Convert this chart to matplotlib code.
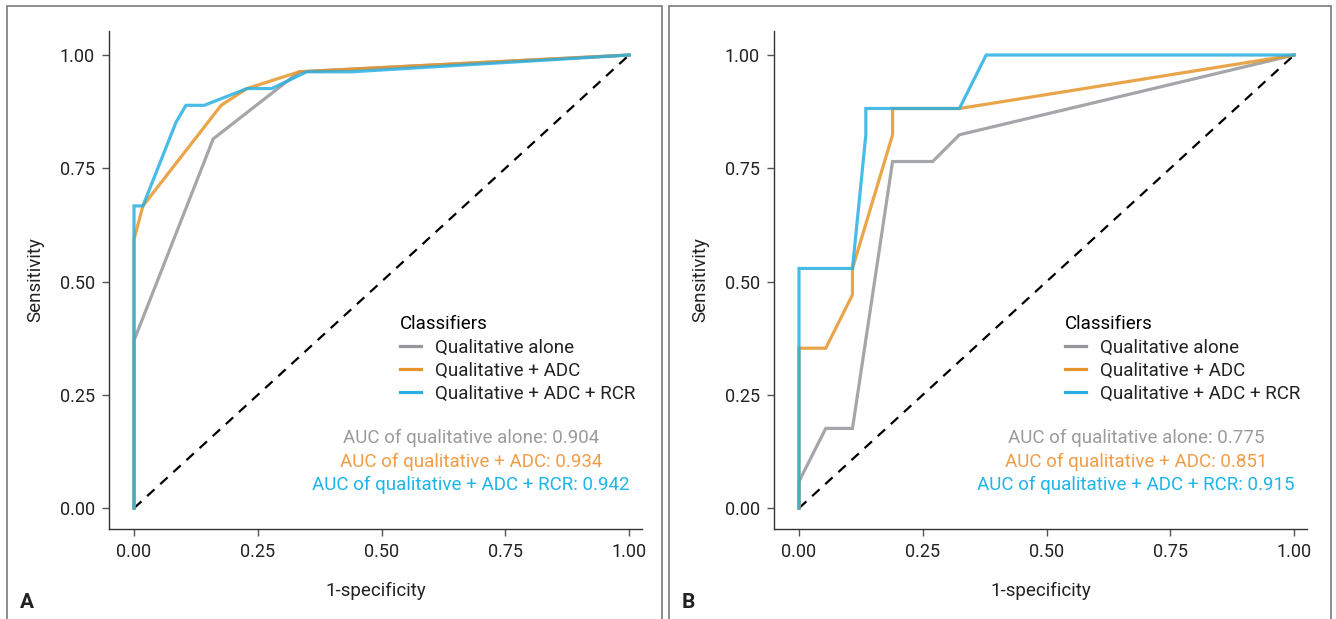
import matplotlib
matplotlib.use('Agg')
import matplotlib.pyplot as plt
from matplotlib.patches import Rectangle
from matplotlib.lines import Line2D

plt.rcParams['font.family'] = ['Roboto', 'DejaVu Sans']

# panel A: ROC points (1-specificity, sensitivity)
a_qual_x = [0, 0, 0.160, 0.334, 1]
a_qual_y = [0, 0.370, 0.815, 0.963, 1]
a_adc_x = [0, 0, 0.018, 0.176, 0.228, 0.334, 1]
a_adc_y = [0, 0.593, 0.667, 0.889, 0.926, 0.963, 1]
a_rcr_x = [0, 0, 0.018, 0.085, 0.105, 0.142, 0.228, 0.278, 0.349, 0.440, 1]
a_rcr_y = [0, 0.667, 0.667, 0.852, 0.889, 0.889, 0.926, 0.926, 0.963, 0.963, 1]
a_auc = [0.904, 0.934, 0.942]

# panel B
b_qual_x = [0, 0, 0.054, 0.108, 0.189, 0.270, 0.324, 1]
b_qual_y = [0, 0.059, 0.176, 0.176, 0.765, 0.765, 0.824, 1]
b_adc_x = [0, 0, 0.054, 0.108, 0.108, 0.189, 0.189, 0.324, 1]
b_adc_y = [0, 0.353, 0.353, 0.471, 0.529, 0.824, 0.882, 0.882, 1]
b_rcr_x = [0, 0, 0.108, 0.135, 0.135, 0.324, 0.378, 1]
b_rcr_y = [0, 0.529, 0.529, 0.824, 0.882, 0.882, 1, 1]
b_auc = [0.775, 0.851, 0.915]

names = ['Qualitative alone', 'Qualitative + ADC', 'Qualitative + ADC + RCR']
auc_names = ['qualitative alone', 'qualitative + ADC', 'qualitative + ADC + RCR']
ticks = [0, 0.25, 0.5, 0.75, 1.0]
tick_labels = ['0.00', '0.25', '0.50', '0.75', '1.00']

line_cols = ['#95979a', '#e6952a', '#29afe3']
text_cols = ['#9b9b9b', '#f19d47', '#1db5ea']

fig = plt.figure(figsize=(13.36, 6.19), dpi=100)

panels = [
    ('A', [(a_qual_x, a_qual_y), (a_adc_x, a_adc_y), (a_rcr_x, a_rcr_y)], a_auc, 109, 7, 662),
    ('B', [(b_qual_x, b_qual_y), (b_adc_x, b_adc_y), (b_rcr_x, b_rcr_y)], b_auc, 774, 669, 1331),
]

W, H = 1336., 619.
for lab, curves, aucs, left_px, fx0, fx1 in panels:
    ax = fig.add_axes([left_px / W, 1 - 529 / H, 533 / W, 498 / H])
    ax.plot([0, 1], [0, 1], color='black', lw=1.6, ls=(0, (4.5, 3.5)), zorder=1)
    for (x, y), c in zip(curves, line_cols):
        ax.plot(x, y, color=c, lw=2.3, alpha=0.85, zorder=2, solid_joinstyle='miter')
    ax.set_xlim(-0.0505, 1.026)
    ax.set_ylim(-0.046, 1.053)
    ax.set_xticks(ticks)
    ax.set_xticklabels(tick_labels)
    ax.set_yticks(ticks)
    ax.set_yticklabels(tick_labels)
    for s in ['top', 'right']:
        ax.spines[s].set_visible(False)
    for s in ['left', 'bottom']:
        ax.spines[s].set_color('#333333')
        ax.spines[s].set_linewidth(1.0)
    ax.tick_params(length=5, width=1, color='#555555', labelsize=13, labelcolor='#222222', pad=5)
    ax.set_xlabel('1-specificity', fontsize=13.5, color='#222222', labelpad=15)
    ax.set_ylabel('Sensitivity', fontsize=13.5, color='#222222', labelpad=11)

    handles = [Line2D([], [], color=c, lw=2.3) for c in line_cols]
    leg = ax.legend(handles, names, title='Classifiers', loc='upper left',
                    bbox_to_anchor=(0.529, 0.448), frameon=False, fontsize=13.5,
                    title_fontsize=13.5, handlelength=1.1, handletextpad=0.75,
                    labelspacing=0.28, alignment='left', borderpad=0)
    for t in leg.get_texts():
        t.set_color('#222222')

    for i, (nm, v, c) in enumerate(zip(auc_names, aucs, text_cols)):
        ax.text(0.681, 0.155 - i * 0.052, 'AUC of %s: %.3f' % (nm, v), color=c,
                fontsize=13.5, ha='center', va='center')

    fig.add_artist(Rectangle((fx0 / W, -0.05), (fx1 - fx0) / W, 1 - 6 / H + 0.05,
                             transform=fig.transFigure, fill=False,
                             edgecolor='#7a7a7a', lw=1.2))
    fig.text((fx0 + 13) / W, 1 - 603 / H, lab, fontsize=15, fontweight='bold',
             color='#222222', va='center', ha='left')

fig.savefig('out.png', dpi=100)
